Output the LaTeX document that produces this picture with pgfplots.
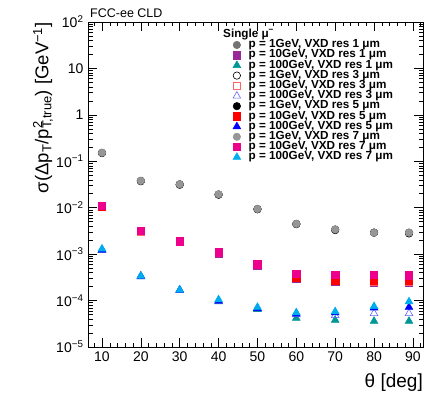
\documentclass[border=0pt]{standalone}
\usepackage{pgfplots}
\usepackage{pgfplotstable}
\pgfplotsset{compat=1.18}
\usepackage{fontspec}
\setmainfont{Liberation Sans}
\definecolor{cgrayA}{RGB}{115,115,115}
\definecolor{cgrayB}{RGB}{150,150,150}
\definecolor{cpurple}{RGB}{153,40,153}
\definecolor{cteal}{RGB}{0,150,150}
\definecolor{copenred}{RGB}{255,100,100}
\definecolor{copenblue}{RGB}{100,100,255}

% theta, then 1GeV/10GeV/100GeV for VXD res 1,3,5,7 um
\pgfplotstableread{
th   a1     b1      c1        a3     b3      c3        a5     b5      c5        a7     b7      c7
10   0.150  0.0105  0.00120   0.151  0.0106  0.00122   0.152  0.0107  0.00123   0.153  0.0110  0.00130
20   0.037  0.0031  0.00033   0.0375 0.0031  0.00033   0.038  0.0032  0.00034   0.038  0.0032  0.00034
30   0.031  0.00185 0.000165  0.0315 0.00187 0.000165  0.032  0.0019  0.00017   0.032  0.0019  0.00017
40   0.019  0.00105 0.000095  0.0192 0.00107 0.000097  0.0193 0.00108 0.000098  0.0195 0.0011  0.000105
50   0.0092 0.00058 0.000065  0.0093 0.00059 0.000067  0.0094 0.0006  0.000068  0.0094 0.0006  0.000072
60   0.0044 0.00030 0.000042  0.00445 0.00031 0.000050 0.0045 0.00032 0.000052  0.0045 0.00038 0.000055
70   0.0033 0.00026 0.000038  0.0033 0.00027 0.000048  0.0034 0.00027 0.000055  0.0034 0.00036 0.000058
80   0.0029 0.00025 0.000036  0.0029 0.00026 0.000053  0.0029 0.00027 0.000070  0.0029 0.00036 0.000075
89   0.0028 0.00025 0.000036  0.0028 0.00026 0.000053  0.0029 0.00027 0.000072  0.0029 0.00035 0.000095
}\datatable

\begin{document}
\begin{tikzpicture}
\begin{axis}[
  name=ax,
  scale only axis,
  width=335pt, height=325pt,
  ymode=log,
  xmin=6.4, xmax=92.6,
  ymin=1e-5, ymax=1e2,
  clip=false,
  axis line style={line width=0.6pt},
  tick style={line width=0.5pt, black},
  tick align=inside,
  xtick pos=both, ytick pos=both,
  major tick length=9pt, minor tick length=4.5pt,
  xtick={10,20,30,40,50,60,70,80,90},
  minor xtick={8,12,14,16,18,22,24,26,28,32,34,36,38,42,44,46,48,52,54,56,58,62,64,66,68,72,74,76,78,82,84,86,88,92},
  ytick={1e-5,1e-4,1e-3,1e-2,1e-1,1,10,100},
  yticklabels={10\textsuperscript{−5},10\textsuperscript{−4},10\textsuperscript{−3},10\textsuperscript{−2},10\textsuperscript{−1},1,10,10\textsuperscript{2}},
  minor ytick={2e-5,3e-5,4e-5,5e-5,6e-5,7e-5,8e-5,9e-5,
               2e-4,3e-4,4e-4,5e-4,6e-4,7e-4,8e-4,9e-4,
               2e-3,3e-3,4e-3,5e-3,6e-3,7e-3,8e-3,9e-3,
               2e-2,3e-2,4e-2,5e-2,6e-2,7e-2,8e-2,9e-2,
               0.2,0.3,0.4,0.5,0.6,0.7,0.8,0.9,
               2,3,4,5,6,7,8,9,
               20,30,40,50,60,70,80,90},
  /pgf/number format/assume math mode=true,
  xticklabel style={font=\fontsize{14}{16}\selectfont, yshift=-1pt},
  yticklabel style={font=\fontsize{14}{16}\selectfont, xshift=-1pt},
  every axis plot/.append style={only marks, line width=0.6pt},
  legend image code/.code={\draw[mark repeat=2,mark phase=2,#1] plot coordinates {(0pt,0pt) (4pt,0pt) (8pt,0pt)};},
  legend cell align=left,
  legend style={draw=none, fill=none, inner sep=0pt, outer sep=0pt,
    at={(rel axis cs:0.433,0.945)}, anchor=north west,
    row sep=0pt,
    nodes={inner sep=0pt, text height=7.9pt, text depth=2.3pt,
           font=\fontsize{11.7}{12}\bfseries\selectfont},
    /tikz/every odd column/.append style={column sep=8pt}},
]
\addplot[mark=*, mark size=3.7pt, color=cgrayA, fill=cgrayA] table[x=th,y=a1]{\datatable};
\addlegendentry{p = 1GeV, VXD res 1 μm}
\addplot[mark=square*, mark size=3.7pt, color=cpurple, fill=cpurple] table[x=th,y=b1]{\datatable};
\addlegendentry{p = 10GeV, VXD res 1 μm}
\addplot[mark=triangle*, mark size=4.4pt, color=cteal, fill=cteal] table[x=th,y=c1]{\datatable};
\addlegendentry{p = 100GeV, VXD res 1 μm}
\addplot[mark=o, mark size=3.7pt, color=black] table[x=th,y=a3]{\datatable};
\addlegendentry{p = 1GeV, VXD res 3 μm}
\addplot[mark=square, mark size=3.7pt, color=copenred] table[x=th,y=b3]{\datatable};
\addlegendentry{p = 10GeV, VXD res 3 μm}
\addplot[mark=triangle, mark size=4.4pt, color=copenblue] table[x=th,y=c3]{\datatable};
\addlegendentry{p = 100GeV, VXD res 3 μm}
\addplot[mark=*, mark size=3.7pt, color=black, fill=black] table[x=th,y=a5]{\datatable};
\addlegendentry{p = 1GeV, VXD res 5 μm}
\addplot[mark=square*, mark size=3.7pt, color=red, fill=red] table[x=th,y=b5]{\datatable};
\addlegendentry{p = 10GeV, VXD res 5 μm}
\addplot[mark=triangle*, mark size=4.4pt, color=blue, fill=blue] table[x=th,y=c5]{\datatable};
\addlegendentry{p = 100GeV, VXD res 5 μm}
\addplot[mark=*, mark size=3.7pt, color=cgrayB, fill=cgrayB] table[x=th,y=a7]{\datatable};
\addlegendentry{p = 1GeV, VXD res 7 μm}
\addplot[mark=square*, mark size=3.7pt, color=magenta, fill=magenta] table[x=th,y=b7]{\datatable};
\addlegendentry{p = 10GeV, VXD res 7 μm}
\addplot[mark=triangle*, mark size=4.4pt, color=cyan, fill=cyan] table[x=th,y=c7]{\datatable};
\addlegendentry{p = 100GeV, VXD res 7 μm}

\node[anchor=west, inner sep=0pt, font=\fontsize{11.7}{12}\bfseries\selectfont] at (rel axis cs:0.403,0.963) {Single μ\textsuperscript{−}};
\node[anchor=base west, inner sep=0pt, font=\fontsize{12.5}{14}\selectfont] at ([yshift=5pt]rel axis cs:0.006,1) {FCC-ee CLD};
\node[anchor=north east, inner sep=0pt, font=\fontsize{19}{22}\selectfont] at ([yshift=-27pt]rel axis cs:1,0) {θ [deg]};
\node[rotate=90, anchor=east, inner sep=0pt, font=\fontsize{18.5}{22}\selectfont] at ([xshift=-45pt]rel axis cs:0,1) {σ(Δp\textsubscript{T}/p\rlap{\textsuperscript{2}}\textsubscript{T,true}) [GeV\textsuperscript{−1}]};
\end{axis}
\pgfresetboundingbox
\path[use as bounding box] ([shift={(-88pt,-49pt)}]ax.south west) rectangle ([shift={(3pt,22pt)}]ax.north east);
\end{tikzpicture}
\end{document}
